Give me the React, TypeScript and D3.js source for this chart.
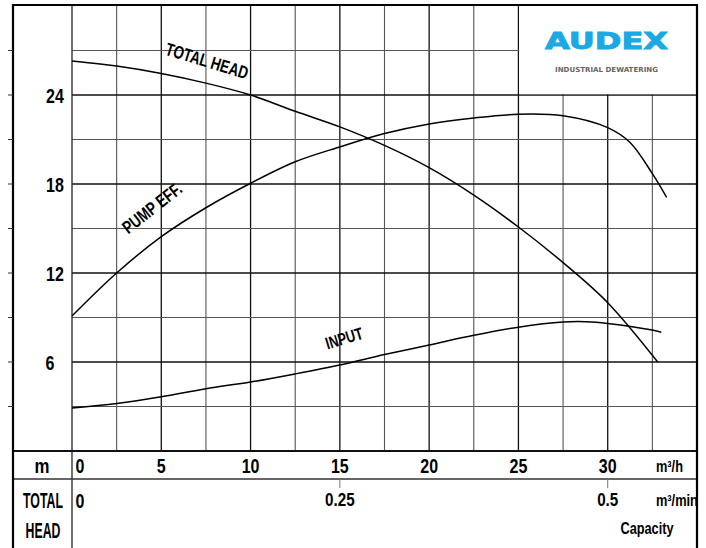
import { useEffect, useRef } from 'react';
import * as d3 from 'd3';

// capacity in m³/h, values on the chart's vertical scale
const headQ = [0, 2.5, 5, 7.5, 10, 12.5, 15, 17.5, 20, 22.5, 25, 27.5, 30, 32.8];
const headH = [26.3, 25.95, 25.45, 24.8, 24.0, 22.9, 21.85, 20.6, 19.1, 17.25, 15.1, 12.7, 10.0, 6.0];

const effQ = [0, 2.5, 5, 7.5, 10, 12.5, 15, 17.5, 20, 22.5, 25, 27.5, 30, 31.25, 32.5, 33.3];
const effV = [9.1, 12.0, 14.45, 16.4, 18.05, 19.5, 20.5, 21.4, 22.05, 22.45, 22.7, 22.6, 21.8, 20.8, 18.7, 17.1];

const inputQ = [0, 2.5, 5, 7.5, 10, 12.5, 15, 17.5, 20, 22.5, 25, 27.5, 28.8, 30, 32.5, 33.0];
const inputV = [2.9, 3.2, 3.65, 4.2, 4.65, 5.2, 5.8, 6.5, 7.15, 7.8, 8.35, 8.7, 8.72, 8.6, 8.15, 8.0];

const yTickLabels = ['6', '12', '18', '24'];
const xTickLabels = ['0', '5', '10', '15', '20', '25', '30'];
const minTicks = [
  { label: '0.25', q: 15 },
  { label: '0.5', q: 30 }
];

const FONT = "'Liberation Sans', Arial, sans-serif";
const NARROW = 0.8;

export default function App() {
  const svgRef = useRef<SVGSVGElement>(null);

  useEffect(() => {
    if (!svgRef.current) return;
    const svg = d3.select(svgRef.current);
    svg.selectAll('*').remove();

    const x = d3.scaleLinear().domain([0, 35]).range([72, 697]);
    const y = d3.scaleLinear().domain([0, 30]).range([451, 6]);

    const frameLeft = 13;
    const bottom = 548;

    svg.append('rect').attr('x', 0).attr('y', 0).attr('width', 706).attr('height', 548).attr('fill', '#fff');

    // grid
    const g = svg.append('g');
    d3.range(2.5, 35, 2.5).forEach(v => {
      const major = Math.abs(v % 5) < 0.01;
      g.append('line')
        .attr('x1', x(v)).attr('x2', x(v))
        .attr('y1', y(30)).attr('y2', y(0))
        .attr('stroke', major ? '#111' : '#555')
        .attr('stroke-width', major ? 1.3 : 1.1);
    });
    d3.range(3, 30, 3).forEach(v => {
      const major = v % 6 === 0;
      g.append('line')
        .attr('x1', x(0)).attr('x2', x(35))
        .attr('y1', y(v)).attr('y2', y(v))
        .attr('stroke', major ? '#111' : '#555')
        .attr('stroke-width', major ? 1.3 : 1.1);
    });

    // logo box
    svg.append('rect')
      .attr('x', x(25) + 0.8).attr('y', y(30))
      .attr('width', x(35) - x(25) - 0.8).attr('height', y(24) - y(30) - 0.8)
      .attr('fill', '#fff');
    svg.append('text')
      .attr('x', 545).attr('y', 49)
      .attr('textLength', 123).attr('lengthAdjust', 'spacingAndGlyphs')
      .attr('font-family', "'DejaVu Sans', sans-serif")
      .attr('font-weight', 'bold').attr('font-size', 22.5)
      .attr('fill', '#1aa9e4').attr('stroke', '#1aa9e4').attr('stroke-width', 0.9)
      .text('AUDEX');
    svg.append('text')
      .attr('x', 555).attr('y', 72)
      .attr('textLength', 103).attr('lengthAdjust', 'spacingAndGlyphs')
      .attr('font-family', "'DejaVu Sans', sans-serif")
      .attr('font-weight', 'bold').attr('font-size', 7)
      .attr('fill', '#666')
      .text('INDUSTRIAL DEWATERING');

    // plot left edge
    svg.append('line')
      .attr('x1', x(0)).attr('x2', x(0)).attr('y1', y(30)).attr('y2', bottom)
      .attr('stroke', '#222').attr('stroke-width', 1.3);

    // bottom bands
    svg.append('line').attr('x1', frameLeft).attr('x2', x(35)).attr('y1', y(0)).attr('y2', y(0))
      .attr('stroke', '#111').attr('stroke-width', 1.8);
    svg.append('line').attr('x1', frameLeft).attr('x2', x(35)).attr('y1', 479).attr('y2', 479)
      .attr('stroke', '#333').attr('stroke-width', 1.3);

    // outer frame
    svg.append('path')
      .attr('d', `M${frameLeft},${bottom}V${y(30) - 1}H${x(35)}V${bottom}`)
      .attr('fill', 'none').attr('stroke', '#000').attr('stroke-width', 2.2);

    d3.range(3, 30, 3).forEach(v => {
      svg.append('line')
        .attr('x1', frameLeft - 5).attr('x2', frameLeft)
        .attr('y1', y(v)).attr('y2', y(v))
        .attr('stroke', '#333').attr('stroke-width', 1);
    });

    // curves
    const line = d3.line<[number, number]>()
      .x(d => x(d[0]))
      .y(d => y(d[1]))
      .curve(d3.curveCatmullRom.alpha(0.5));

    const series = [
      headQ.map((q, i) => [q, headH[i]] as [number, number]),
      effQ.map((q, i) => [q, effV[i]] as [number, number]),
      inputQ.map((q, i) => [q, inputV[i]] as [number, number])
    ];
    series.forEach(s => {
      svg.append('path')
        .datum(s)
        .attr('fill', 'none')
        .attr('stroke', '#000')
        .attr('stroke-width', 1.5)
        .attr('d', line);
    });

    // narrow bold text helper
    const txt = (t: string, tx: number, ty: number, size: number, anchor = 'middle', angle = 0, baseline = 'auto', sx = NARROW) => {
      svg.append('text')
        .attr('transform', `translate(${tx},${ty}) rotate(${angle}) scale(${sx},1)`)
        .attr('text-anchor', anchor)
        .attr('dominant-baseline', baseline)
        .attr('font-family', FONT)
        .attr('font-weight', 'bold')
        .attr('font-size', size)
        .attr('fill', '#000')
        .text(t);
    };

    txt('TOTAL HEAD', 207, 61, 18, 'middle', 17, 'central', 0.75);
    txt('PUMP EFF.', 152, 208, 18, 'middle', -38, 'central', 0.75);
    txt('INPUT', 344, 338, 17, 'middle', -17, 'central', 0.75);

    yTickLabels.forEach(t => {
      txt(t, t.length > 1 ? 55 : 50, y(+t) + 8, 20);
    });

    xTickLabels.forEach(t => {
      const v = +t;
      txt(t, v === 0 ? x(0) + 8 : x(v), 473, 20);
    });
    txt('m', 42, 473, 21);
    txt('m³/h', 656, 472, 16, 'start');

    txt('0', x(0) + 8, 508, 20);
    minTicks.forEach(m => {
      svg.append('line')
        .attr('x1', x(m.q)).attr('x2', x(m.q)).attr('y1', 479).attr('y2', 488)
        .attr('stroke', '#777').attr('stroke-width', 1);
      txt(m.label, x(m.q), 506, 19);
    });
    txt('m³/min', 656, 506, 16, 'start');
    txt('Capacity', 647, 534, 17, 'middle', 0, 'auto', 0.75);
    txt('TOTAL', 43, 508, 22, 'middle', 0, 'auto', 0.56);
    txt('HEAD', 43, 538, 22, 'middle', 0, 'auto', 0.56);
  }, []);

  return (
    <svg
      ref={svgRef}
      width={706}
      height={548}
      style={{ position: 'absolute', left: 0, top: 0, display: 'block' }}
    />
  );
}
